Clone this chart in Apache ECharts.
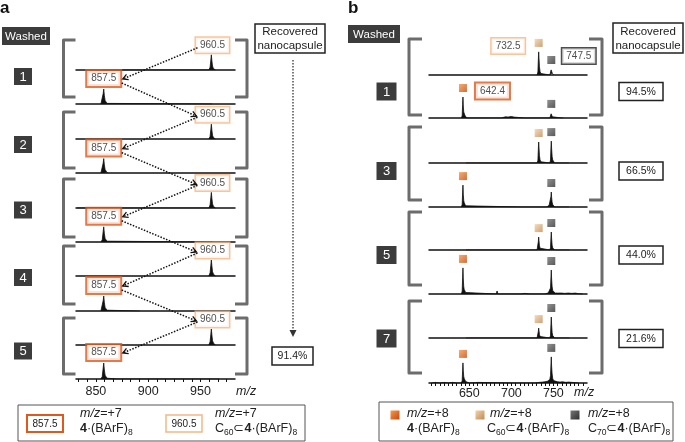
<!DOCTYPE html>
<html><head><meta charset="utf-8">
<script src="https://cdn.jsdelivr.net/npm/echarts@6/dist/echarts.min.js"></script>
<style>html,body{margin:0;padding:0;background:#fff}#c{width:685px;height:442px}</style>
</head><body><div id="c"></div>
<script>
// ---------------- DATA ----------------
// Panel a: m/z axis, tick labels, ticks
const aXMin = 831, aXMax = 983;
const aAxisLabels = [850, 900, 950];
const aAxisTicks = [833.3, 841.7, 850, 858.3, 866.7, 875, 883.3, 891.7, 900, 908.3, 916.7, 925, 933.3, 941.7, 950, 958.3, 966.7, 975];
const washA = ['1', '2', '3', '4', '5'];
const recoveredA = ['91.4%'];
const aPeakEmpty = 857.5, aPeakC60 = 960.5;
const aLabelEmpty = '857.5', aLabelC60 = '960.5';
// Panel a spectra [m/z, relative intensity]; per wash: C60 spectrum (top), empty capsule spectrum (bottom)
const a_w1_c60 = [[856.5,0],[857.5,3],[858.5,0],[958,0],[959.2,14],[959.9,50],[960.4,76],[960.9,46],[961.5,20],[962.3,8],[963.3,3],[964.3,0]];
const a_w1_empty = [[854.8,0],[856.1,10],[857,52],[857.5,75],[858.1,42],[858.8,18],[859.6,8],[860.6,3],[861.8,0],[959.8,0],[960.5,2],[961.2,0]];
const a_w2_c60 = [[958,0],[959.2,13],[959.9,48],[960.4,74],[960.9,44],[961.5,19],[962.3,8],[963.3,3],[964.3,0]];
const a_w2_empty = [[854.8,0],[856.1,9],[857,50],[857.5,72],[858.1,41],[858.8,17],[859.6,7],[860.6,3],[861.8,0]];
const a_w3_c60 = [[832,0],[833,4],[834,0],[958,0],[959.2,15],[959.9,52],[960.4,78],[960.9,48],[961.5,21],[962.3,9],[963.3,4],[964.3,0]];
const a_w3_empty = [[854.8,0],[856.1,11],[857,53],[857.5,76],[858.1,43],[858.8,18],[859.6,8],[860.6,4],[861.8,0],[959.8,0],[960.5,4],[961.2,0]];
const a_w4_c60 = [[958,0],[959.2,16],[959.9,54],[960.4,80],[960.9,50],[961.5,22],[962.3,10],[963.3,4],[964.3,0]];
const a_w4_empty = [[854.8,0],[856.1,10],[857,52],[857.5,75],[858.1,42],[858.8,18],[859.6,8],[860.6,4],[861.8,0],[890,0],[891,3],[892,0]];
const a_w5_c60 = [[958,0],[959.2,16],[959.9,54],[960.4,80],[960.9,50],[961.5,23],[962.3,10],[963.3,4],[964.3,0]];
const a_w5_empty = [[854.8,0],[856.1,12],[857,56],[857.5,80],[858.1,45],[858.8,19],[859.6,9],[860.6,4],[861.8,0],[870,0],[871,2],[872,0],[959.5,0],[960.5,4],[961.5,0],[966,0],[967,2],[968,0]];

// Panel b
const bXMin = 602, bXMax = 790;
const bAxisLabels = [650, 700, 750];
const bAxisTicks = [605,610,615,620,625,630,635,640,645,650,655,660,665,670,675,680,685,690,695,700,705,710,715,720,725,730,735,740,745,750,755,760,765,770,775,780,785];
const washB = ['1', '3', '5', '7'];
const recoveredB = ['94.5%', '66.5%', '44.0%', '21.6%'];
const bPeakEmpty = 642.4, bPeakC60 = 732.5, bPeakC70 = 747.5;
const bLabelEmpty = '642.4', bLabelC60 = '732.5', bLabelC70 = '747.5';
const b_w1_c60 = [[730.6,0],[731.6,10],[732.1,50],[732.5,77],[732.9,55],[733.4,28],[734.1,12],[735,5],[736.2,0],[745.8,0],[746.8,6],[747.3,17],[747.5,20],[748,12],[748.7,6],[749.6,2],[750.5,0]];
const b_w1_empty = [[640.6,0],[641.5,8],[642.0,45],[642.4,70],[642.8,40],[643.3,20],[643.9,14],[644.7,9],[645.6,4],[646.8,0],[664,0],[665,3],[666,0],[679,0],[680,3],[681,0],[688,0],[690,3],[693,4],[696,3],[700,5],[703,3],[705,0],[716,0],[717,3],[718,0],[722,0],[723,3],[724,0],[745.8,0],[746.8,6],[747.3,14],[747.5,17],[748,9],[748.8,4],[750,0],[760,0],[761,2],[762,0]];
const b_w3_c60 = [[646,0],[647,3],[648,0],[730.6,0],[731.6,9],[732.1,45],[732.5,70],[732.9,50],[733.4,25],[734.1,11],[735,4],[736.2,0],[745.8,0],[746.6,10],[747.1,50],[747.5,73],[747.9,48],[748.5,22],[749.2,10],[750.2,4],[751.5,0],[754.5,0],[755.5,3],[756.5,0],[758.5,0],[759.5,3],[760.5,0],[766.5,0],[767.5,4],[768.5,0]];
const b_w3_empty = [[640.6,0],[641.5,9],[642.0,47],[642.4,73],[642.8,42],[643.3,22],[643.9,14],[644.7,9],[645.6,4],[646.8,0],[712,0],[713,3],[714,0],[732,0],[733,3],[734,0],[742,0],[743.5,5],[745,6],[746.6,12],[747.1,35],[747.5,50],[747.9,32],[748.5,16],[749.2,8],[750.2,3],[751.5,0],[754.5,0],[755.5,3],[756.5,0],[758.5,0],[759.5,3],[760.5,0],[766.5,0],[767.5,3],[768.5,0]];
const b_w5_c60 = [[646,0],[647,3],[648,0],[730.6,0],[731.6,6],[732.1,28],[732.5,43],[732.9,30],[733.4,15],[734.1,6],[735,2],[736.2,0],[745.8,0],[746.6,8],[747.1,40],[747.5,60],[747.9,38],[748.5,16],[749.2,7],[750.2,3],[751.5,0],[767,0],[768,3],[769,0]];
const b_w5_empty = [[640.6,0],[641.5,10],[642.0,55],[642.4,87],[642.8,50],[643.3,25],[643.9,15],[644.7,10],[645.6,5],[646.8,0],[682,0],[683,10],[684,0],[702,0],[703,2],[704,0],[711,0],[713,2],[716,2],[718,0],[722,0],[724,2],[726,0],[730,0],[731,3],[732,0],[740,0],[742,3],[744,4],[745.8,8],[746.6,20],[747.1,55],[747.5,80],[747.9,50],[748.5,24],[749.2,12],[750.2,6],[752,3],[755,3],[757,2],[760,3],[763,2],[768,3],[772,2],[776,3],[780,1],[785,0]];
const b_w7_c60 = [[646,0],[647,3],[648,0],[730.6,0],[731.6,5],[732.1,22],[732.5,33],[732.9,24],[733.4,12],[734.1,5],[735,2],[736.2,0],[745.8,0],[746.6,9],[747.1,45],[747.5,70],[747.9,44],[748.5,18],[749.2,8],[750.2,3],[751.5,0],[767,0],[768,2],[769,0]];
const b_w7_empty = [[605,0],[610,2],[615,0],[620,2],[625,0],[630,2],[635,0],[640.6,0],[641.5,8],[642.0,42],[642.4,67],[642.8,40],[643.3,22],[643.9,15],[644.7,10],[645.6,5],[646.8,2],[650,0],[660,2],[662,0],[700,0],[702,2],[704,0],[728,0],[730,3],[733,2],[737,3],[740,4],[743,6],[745.8,12],[746.6,25],[747.1,60],[747.5,87],[747.9,55],[748.5,30],[749.2,15],[750.2,8],[752,5],[755,4],[758,3],[761,4],[765,2],[768,3],[772,2],[776,1],[780,0]];

// ---------------- LAYOUT / STYLE ----------------
const FONT = '"Liberation Sans", Arial, Helvetica, sans-serif';
const ORANGE = '#e0581c', LORANGE = '#f5b684', DARK = '#3c3c3c', BRK = '#6c6c6c';
const A_BASE = [70, 104, 139, 173, 208, 242, 276, 311, 345, 379];
const B_BASE = [75, 118, 163, 207, 250, 294, 338, 383];
const aSpectra = [a_w1_c60, a_w1_empty, a_w2_c60, a_w2_empty, a_w3_c60, a_w3_empty, a_w4_c60, a_w4_empty, a_w5_c60, a_w5_empty];
const bSpectra = [b_w1_c60, b_w1_empty, b_w3_c60, b_w3_empty, b_w5_c60, b_w5_empty, b_w7_c60, b_w7_empty];

function valAt(arr, x) { for (const p of arr) if (p[0] === x) return p[1]; return 0; }
const gradOrange = new echarts.graphic.LinearGradient(0, 0, 1, 1, [{offset: 0, color: '#f49a4c'}, {offset: 1, color: '#c8460c'}]);
const gradTan = new echarts.graphic.LinearGradient(0, 0, 1, 1, [{offset: 0, color: '#f1d3aa'}, {offset: 1, color: '#c18a55'}]);
const gradGray = new echarts.graphic.LinearGradient(0, 0, 1, 1, [{offset: 0, color: '#777'}, {offset: 1, color: '#2e2e2e'}]);

const grid = [], xAxis = [], yAxis = [], series = [];
function addAxis(i, min, max, bottom, labels, ticks, margin) {
  xAxis.push({
    type: 'value', gridIndex: i, min: min, max: max,
    axisLine: {show: true, onZero: false, lineStyle: {color: '#111', width: 1.5}},
    axisTick: bottom ? {show: true, customValues: ticks, length: 3, lineStyle: {color: '#111', width: 1}} : {show: false},
    axisLabel: bottom ? {show: true, customValues: labels, fontSize: 12.5, color: '#222', margin: margin, fontFamily: FONT} : {show: false},
    splitLine: {show: false}
  });
  yAxis.push({type: 'value', gridIndex: i, min: 0, max: 100, show: false});
}
function lineSeries(i, data) {
  return {type: 'line', xAxisIndex: i, yAxisIndex: i, data: data, showSymbol: false, symbol: 'none',
    lineStyle: {color: '#111', width: 0.8}, areaStyle: {color: '#111', opacity: 1}, silent: true, z: 3, animation: false};
}
function boxLabel(text, border, bw, pos, dist, off) {
  return {show: true, position: pos, distance: dist, offset: off, formatter: text, fontSize: 10, fontFamily: FONT,
    color: '#222', backgroundColor: '#fff', borderColor: border, borderWidth: bw, padding: [2, 4, 2, 4], lineHeight: 11};
}

// panel a
aSpectra.forEach((sp, i) => {
  grid.push({left: 76, top: A_BASE[i] - 20, width: 159, height: 20});
  addAxis(i, aXMin, aXMax, i === aSpectra.length - 1, aAxisLabels, aAxisTicks, 6);
  series.push(lineSeries(i, sp));
  const isC60 = i % 2 === 0;
  const px = isC60 ? aPeakC60 : aPeakEmpty;
  series.push({type: 'scatter', xAxisIndex: i, yAxisIndex: i, symbolSize: 0, silent: true, z: 6, animation: false,
    data: [{value: [px, valAt(sp, px === aPeakC60 ? 960.4 : 857.5)],
      label: isC60 ? boxLabel(aLabelC60, LORANGE, 1.5, 'top', 2, [1, 0]) : boxLabel(aLabelEmpty, ORANGE, 2, 'top', 3, [0, 0])}]});
});
// panel b
bSpectra.forEach((sp, j) => {
  const i = aSpectra.length + j;
  grid.push({left: 429, top: B_BASE[j] - 30, width: 158, height: 30});
  addAxis(i, bXMin, bXMax, j === bSpectra.length - 1, bAxisLabels, bAxisTicks, 4);
  series.push(lineSeries(i, sp));
  const isC60 = j % 2 === 0;
  const first = j < 2;
  const pts = [];
  if (isC60) {
    pts.push({value: [bPeakC60, valAt(sp, bPeakC60)], itemStyle: {color: gradTan},
      label: first ? boxLabel(bLabelC60, LORANGE, 1.5, 'left', 10, [0, 3]) : {show: false}});
  } else {
    pts.push({value: [bPeakEmpty, valAt(sp, bPeakEmpty)], itemStyle: {color: gradOrange},
      label: first ? boxLabel(bLabelEmpty, ORANGE, 2, 'right', 9, [0, 3]) : {show: false}});
  }
  pts.push({value: [bPeakC70, valAt(sp, bPeakC70)], itemStyle: {color: gradGray},
    label: (first && isC60) ? boxLabel(bLabelC70, '#222', 1.5, 'right', 7, [0, -4]) : {show: false}});
  series.push({type: 'scatter', xAxisIndex: i, yAxisIndex: i, symbol: 'rect', symbolSize: 8, symbolOffset: [0, -9],
    silent: true, z: 6, animation: false, clip: false, data: pts});
});

const option = {animation: false, backgroundColor: '#fff', grid, xAxis, yAxis, series};
const chart = echarts.init(document.getElementById('c'), null, {renderer: 'canvas'});
chart.setOption(option);

// ---------------- GRAPHICS (decorations) ----------------
const g = [];
function rect(x, y, w, h, fill, stroke, lw) { g.push({type: 'rect', shape: {x, y, width: w, height: h}, style: {fill: fill, stroke: stroke || null, lineWidth: lw || 0}, z: 100}); }
function txt(x, y, text, o) {
  o = o || {};
  g.push({type: 'text', z: 101, style: Object.assign({x, y, text, fill: '#222', fontSize: 12, fontFamily: FONT, align: 'left', verticalAlign: 'middle'}, o)});
}
function darkBox(cx, cy, w, h, label, fs) { rect(cx - w / 2, cy - h / 2, w, h, DARK); txt(cx, cy + 0.5, label, {fill: '#fff', fontSize: fs, align: 'center'}); }
function whiteBox(x, y, w, h, label, fs, stroke, lw) { rect(x, y, w, h, '#fff', stroke || '#222', lw || 1.5); txt(x + w / 2, y + h / 2 + 0.5, label, {fontSize: fs, align: 'center', lineHeight: 14}); }
function bracket(xl, xr, y1, y2, arm) {
  const st = {stroke: BRK, lineWidth: 3, fill: null, lineJoin: 'round'};
  g.push({type: 'polyline', z: 100, shape: {points: [[xl + arm, y1], [xl, y1], [xl, y2], [xl + arm, y2]]}, style: st});
  g.push({type: 'polyline', z: 100, shape: {points: [[xr - arm, y1], [xr, y1], [xr, y2], [xr - arm, y2]]}, style: st});
}
function sq(x, y, s, fill) { g.push({type: 'rect', z: 101, shape: {x: x - s / 2, y: y - s / 2, width: s, height: s}, style: {fill: fill}}); }

// panel a static
txt(0, 8, 'a', {fontSize: 17, fontWeight: 'bold', fill: '#111'});
darkBox(26, 36, 48, 18, 'Washed', 11.5);
const aNumY = [76.5, 144.5, 210, 277.5, 351];
washA.forEach((n, k) => darkBox(23, aNumY[k], 18, 17, n, 13));
const aBrT = [40, 112, 179, 246, 318], aBrB = [97, 168, 237, 304, 374];
aBrT.forEach((t, k) => bracket(63.5, 247, t, aBrB[k], 12));
whiteBox(255, 24, 70, 29, 'Recovered\nnanocapsule', 11.5);
g.push({type: 'line', z: 100, shape: {x1: 293, y1: 60, x2: 293, y2: 331}, style: {stroke: '#333', lineWidth: 1.3, lineDash: [1.5, 1.5]}});
g.push({type: 'polygon', z: 100, shape: {points: [[289.5, 330], [296.5, 330], [293, 337]]}, style: {fill: '#333'}});
whiteBox(272, 347, 41, 18, recoveredA[0], 10.5);
txt(236, 392, 'm/z', {fontStyle: 'italic', fontSize: 12.5});
// legend a
rect(18, 405, 287, 36, '#fff', '#555', 1);
whiteBox(27, 415, 36, 17, aLabelEmpty, 10, ORANGE, 2);
whiteBox(166, 415, 36, 17, aLabelC60, 10, LORANGE, 1.5);
const richBase = {fontSize: 12.5, fontFamily: FONT, fill: '#222', lineHeight: 16};
const rich = {
  i: Object.assign({}, richBase, {fontStyle: 'italic'}),
  n: Object.assign({}, richBase),
  b: Object.assign({}, richBase, {fontWeight: 'bold'}),
  s: {fontSize: 8.5, fontFamily: FONT, fill: '#222', lineHeight: 16, verticalAlign: 'bottom'}
};
txt(80, 414, '{i|m/z}{n|=+7}', {rich});
txt(80, 429, '{b|4}{n|·(BArF)}{s|8}', {rich});
txt(215, 414, '{i|m/z}{n|=+7}', {rich});
txt(215, 429, '{n|C}{s|60}{n|⊂}{b|4}{n|·(BArF)}{s|8}', {rich});

// panel b static
txt(348, 8, 'b', {fontSize: 17, fontWeight: 'bold', fill: '#111'});
darkBox(374, 34, 52, 18, 'Washed', 11.5);
const bNumY = [91.5, 171, 255, 338.5];
washB.forEach((n, k) => darkBox(386.5, bNumY[k], 20, 18, n, 13));
const bBrT = [39, 127, 212, 301], bBrB = [115, 200, 285, 373];
bBrT.forEach((t, k) => bracket(409, 602, t, bBrB[k], 13));
whiteBox(613, 23, 70, 30, 'Recovered\nnanocapsule', 11.5);
recoveredB.forEach((p, k) => whiteBox(619, bNumY[k] - 9, 44, 18, p, 10.5));
txt(574, 393, 'm/z', {fontStyle: 'italic', fontSize: 12.5});
// legend b
rect(379, 402, 294, 39, '#fff', '#555', 1);
sq(395, 415, 9, gradOrange); sq(480, 415, 9, gradTan); sq(575, 415, 9, gradGray);
txt(407, 414, '{i|m/z}{n|=+8}', {rich});
txt(407, 429, '{b|4}{n|·(BArF)}{s|8}', {rich});
txt(490, 414, '{i|m/z}{n|=+8}', {rich});
txt(487, 429, '{n|C}{s|60}{n|⊂}{b|4}{n|·(BArF)}{s|8}', {rich});
txt(588, 414, '{i|m/z}{n|=+8}', {rich});
txt(588, 429, '{n|C}{s|70}{n|⊂}{b|4}{n|·(BArF)}{s|8}', {rich});

// dotted arrows in panel a, anchored to the peak positions via the axes
function arrow(p, q) {
  g.push({type: 'line', z: 102, shape: {x1: p[0], y1: p[1], x2: q[0], y2: q[1]}, style: {stroke: '#111', lineWidth: 1.5, lineDash: [1.5, 1.5]}});
  const a = Math.atan2(q[1] - p[1], q[0] - p[0]), L = 6, s = 0.5;
  g.push({type: 'polyline', z: 102, shape: {points: [[q[0] - L * Math.cos(a - s), q[1] - L * Math.sin(a - s)], [q[0], q[1]], [q[0] - L * Math.cos(a + s), q[1] - L * Math.sin(a + s)]]},
    style: {stroke: '#111', lineWidth: 1.3, fill: null}});
}
const P = [], Q = [];
for (let k = 0; k < 5; k++) {
  P.push(chart.convertToPixel({gridIndex: 2 * k}, [aPeakC60, valAt(aSpectra[2 * k], 960.4)]));
  Q.push(chart.convertToPixel({gridIndex: 2 * k + 1}, [aPeakEmpty, valAt(aSpectra[2 * k + 1], 857.5)]));
}
for (let k = 0; k < 5; k++) {
  arrow([P[k][0] - 14, P[k][1] - 7], [Q[k][0] + 19, Q[k][1] - 10]);
  if (k < 4) arrow([Q[k][0] + 18, Q[k][1] - 6], [P[k + 1][0] - 15, P[k + 1][1] - 8]);
}
chart.setOption({graphic: g});
</script></body></html>
